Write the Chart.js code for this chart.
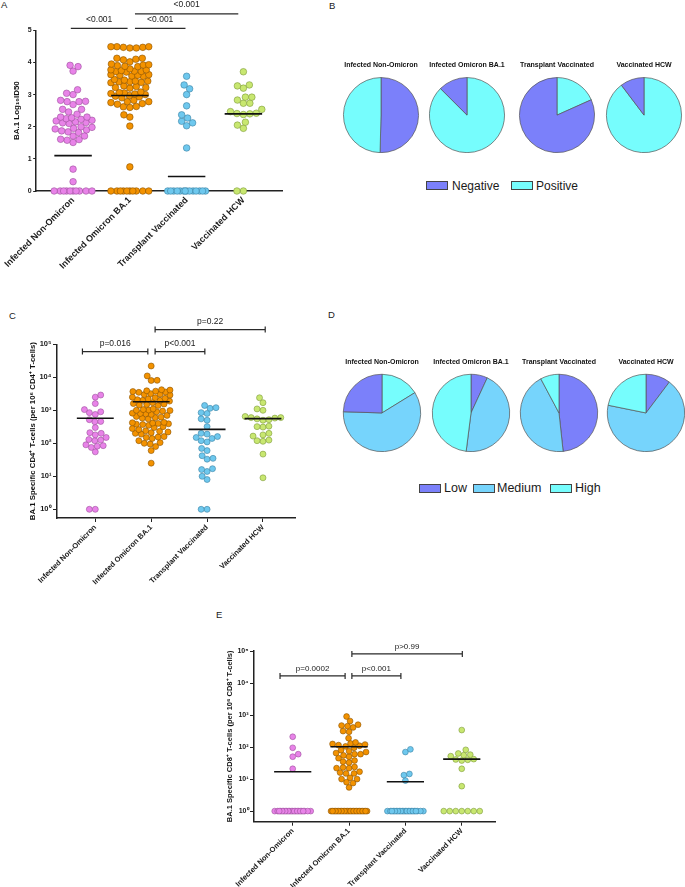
<!DOCTYPE html>
<html>
<head>
<meta charset="utf-8">
<script src="https://cdn.jsdelivr.net/npm/chart.js@4.4.0/dist/chart.umd.min.js"></script>
<style>
  body { margin: 0; width: 685px; height: 887px; position: relative; overflow: hidden; background: #fff;
         font-family: "Liberation Sans", Arial, sans-serif; color: #1a1a1a; }
  canvas { position: absolute; }
  .letter { position: absolute; font-size: 9.5px; line-height: 10px; }
  .leg { position: absolute; display: flex; align-items: center; height: 14px; white-space: nowrap; }
  .leg .box { display: inline-block; width: 20px; height: 7px; border: 1px solid #444; }
  .leg .txt { position: absolute; }
</style>
</head>
<body>

<div class="letter" style="left:1px;top:0px">A</div>
<div class="letter" style="left:329px;top:1px">B</div>
<div class="letter" style="left:9px;top:311px">C</div>
<div class="letter" style="left:328px;top:310px">D</div>
<div class="letter" style="left:216px;top:610px">E</div>

<canvas id="cA" width="300" height="292" style="left:0;top:0"></canvas>
<canvas id="cC" width="300" height="290" style="left:0;top:300px"></canvas>
<canvas id="cE" width="330" height="297" style="left:180px;top:590px"></canvas>

<script>
const FONT = '"Liberation Sans", Arial, sans-serif';
Chart.defaults.font.family = FONT;
Chart.defaults.color = '#1a1a1a';

// ---- data ----
const groups = ['Infected Non-Omicron', 'Infected Omicron BA.1', 'Transplant Vaccinated', 'Vaccinated HCW'];

// A: BA.1 Log10 ID50
const pinkA = [3.91, 3.87, 3.73, 3.15, 3.04, 3.0, 2.82, 2.79, 2.78, 2.78, 2.69, 2.54, 2.54, 2.46, 2.39,
  2.30, 2.30, 2.28, 2.25, 2.23, 2.20, 2.18, 2.15, 2.13, 2.12, 2.10, 2.0, 1.98, 1.95, 1.93, 1.90, 1.87,
  1.84, 1.82, 1.71, 1.71, 1.61, 1.60, 1.58, 1.51, 0.68, 0.29, 0, 0, 0, 0, 0, 0, 0, 0, 0, 0];
const orangeA = [4.49, 4.49, 4.47, 4.45, 4.45, 4.47, 4.49, 4.13, 4.13, 4.10, 4.08, 4.02, 3.95, 3.93, 3.92,
  3.90, 3.88, 3.87, 3.80, 3.77, 3.77, 3.75, 3.73, 3.72, 3.72, 3.70, 3.62, 3.62, 3.60, 3.60, 3.58, 3.57,
  3.47, 3.45, 3.42, 3.42, 3.40, 3.40, 3.38, 3.37, 3.27, 3.25, 3.22, 3.22, 3.20, 3.08, 3.06, 3.05, 3.03,
  3.02, 3.00, 2.97, 2.95, 2.93, 2.90, 2.82, 2.78, 2.78, 2.75, 2.72, 2.70, 2.63, 2.62, 2.60, 2.37, 2.30,
  2.02, 0.75, 0, 0, 0, 0, 0, 0, 0, 0, 0, 0];
const blueA = [3.57, 3.30, 3.18, 3.00, 2.65, 2.37, 2.27, 2.17, 2.12, 2.03, 1.34,
  0, 0, 0, 0, 0, 0, 0, 0, 0, 0, 0, 0, 0, 0];
const greenA = [3.71, 3.30, 3.27, 3.20, 2.92, 2.92, 2.83, 2.73, 2.73, 2.54, 2.47, 2.42, 2.41, 2.40, 2.38,
  2.14, 2.05, 1.95, 0, 0];
const linesA = [1.10, 2.97, 0.45, 2.40];
const bracketsA = [
  {from: 0.96, to: 1.96, at: 5.06, label: '<0.001'},
  {from: 2.09, to: 2.98, at: 5.06, label: '<0.001'},
  {from: 2.09, to: 3.91, at: 5.51, label: '<0.001'}
];

// B: neutralisation positive / negative (% of group)
const negB = [50.4, 12.5, 81.7, 10.3];
const posB = [49.6, 87.5, 18.3, 89.7];

// C: BA.1 specific CD4+ T-cells per 10^6
const pinkC = [2900, 2500, 1600, 1050, 900, 850, 750, 520, 460, 450, 300, 210, 200, 180, 150, 130, 125,
  120, 90, 85, 82, 75, 55, 1, 1];
const orangeC = [22000, 11000, 8100, 8000, 4200, 4100, 3900, 3800, 3700, 3600, 3500, 3200, 3100, 3000,
  2900, 2500, 2400, 2300, 2200, 2100, 2000, 2000, 1900, 1700, 1600, 1550, 1500, 1450, 1400, 1100, 1050,
  1020, 1000, 980, 950, 900, 820, 800, 780, 750, 700, 650, 620, 600, 580, 550, 430, 420, 410, 400, 390,
  380, 370, 350, 320, 300, 280, 260, 240, 230, 220, 210, 200, 190, 160, 155, 150, 140, 120, 105, 100,
  95, 80, 60, 25];
const blueC = [1400, 1200, 1150, 850, 800, 550, 500, 320, 200, 190, 160, 150, 140, 120, 110, 70, 60, 42,
  35, 33, 17, 16, 14, 10, 8, 1, 1];
const greenC = [2400, 1700, 1100, 1000, 650, 600, 600, 580, 550, 520, 500, 330, 320, 310, 200, 180, 165,
  125, 120, 115, 47, 9];
const linesC = [575, 1820, 265, 560];
const bracketsC = [
  {from: 0.77, to: 1.94, at: 6.0e4, label: 'p=0.016'},
  {from: 2.07, to: 2.96, at: 6.0e4, label: 'p<0.001'},
  {from: 2.07, to: 4.04, at: 2.8e5, label: 'p=0.22'}
];

// D: CD4 response level (% of group)
const lowD = [24.5, 6.9, 48.3, 10.3];
const medD = [59.3, 45.1, 43.9, 67.9];
const highD = [16.2, 48.0, 7.8, 21.8];

// E: BA.1 specific CD8+ T-cells per 10^6
const pinkE = [210, 95, 60, 50, 21, 1, 1, 1, 1, 1, 1, 1, 1, 1, 1, 1, 1, 1, 1, 1, 1, 1, 1, 1, 1, 1, 1];
const orangeE = [900, 650, 500, 470, 450, 410, 315, 300, 190, 140, 130, 125, 120, 115, 110, 105, 95, 80,
  75, 70, 65, 60, 60, 55, 50, 45, 38, 35, 33, 24, 23, 22, 22, 17, 16, 15, 15, 11, 10, 10, 8, 7.5, 5.5,
  1, 1, 1, 1, 1, 1, 1, 1, 1, 1, 1, 1, 1, 1, 1, 1, 1, 1, 1, 1, 1, 1, 1, 1, 1];
const blueE = [85, 70, 14.5, 13.3, 9, 1, 1, 1, 1, 1, 1, 1, 1, 1, 1, 1, 1, 1, 1, 1, 1, 1, 1, 1, 1, 1, 1];
const greenE = [340, 82, 63, 58, 56, 52, 42, 40, 41, 38, 21, 6, 1, 1, 1, 1, 1, 1, 1];
const linesE = [17, 102, 8.3, 42];
const bracketsE = [
  {from: 0.775, to: 1.93, at: 1.66e4, label: 'p=0.0002'},
  {from: 2.05, to: 2.92, at: 1.66e4, label: 'p<0.001'},
  {from: 2.05, to: 4.01, at: 8.1e4, label: 'p>0.99'}
];

// ---- styles ----
const fills = ['#e883e8', '#f39200', '#6ec8ee', '#c8e770'];
const edges = ['#9c509c', '#8a5300', '#3b82a3', '#7d9a3c'];
const SUP = ['\u2070', '\u00b9', '\u00b2', '\u00b3', '\u2074', '\u2075', '\u2076'];
const HALF_PX = 19;   // max half width of a dot column, px

// simple beeswarm: each point takes the spot nearest the column centre that
// does not touch the points already placed; when the column is full it takes
// the least crowded spot
function swarm(vals, toPy, pxX, r) {
  const D = 2 * r * 0.97;
  const placed = [];
  const cands = [0];
  for (let s = 0.5; s <= HALF_PX; s += 0.5) cands.push(s, -s);
  vals.map(v => ({v, p: toPy(v)})).sort((a, b) => a.p - b.p).forEach((o, n) => {
    const flip = n % 2 ? -1 : 1;
    let best = 0, bestD = -1;
    for (const c0 of cands) {
      const c = c0 * flip;
      let md = Infinity;
      for (const q of placed) {
        const dy = q.p - o.p;
        if (Math.abs(dy) >= D) continue;
        md = Math.min(md, Math.hypot(q.dx - c, dy));
      }
      if (md >= D) { best = c; bestD = md; break; }
      if (md > bestD + 0.01) { best = c; bestD = md; }
    }
    placed.push({dx: best, p: o.p, v: o.v});
  });
  return placed.map(q => ({dx: q.dx / pxX, y: q.v}));
}

function bracketPlugin(items, o) {
  return {
    id: 'brackets',
    afterDatasetsDraw(chart) {
      const {ctx, scales: {x, y}} = chart;
      ctx.save();
      ctx.strokeStyle = '#2a2a2a';
      ctx.lineWidth = 1.2;
      ctx.fillStyle = '#1a1a1a';
      ctx.font = o.size + 'px ' + FONT;
      ctx.textAlign = 'center';
      ctx.textBaseline = 'middle';
      items.forEach(b => {
        const x1 = x.getPixelForValue(b.from), x2 = x.getPixelForValue(b.to), yy = y.getPixelForValue(b.at);
        ctx.beginPath();
        ctx.moveTo(x1, yy); ctx.lineTo(x2, yy);
        if (o.cap) {
          ctx.moveTo(x1, yy - 3); ctx.lineTo(x1, yy + 3);
          ctx.moveTo(x2, yy - 3); ctx.lineTo(x2, yy + 3);
        }
        ctx.stroke();
        ctx.fillText(b.label, (x1 + x2) / 2, yy - o.gap);
      });
      ctx.restore();
    }
  };
}

function dotPlot(id, cfg) {
  const toPy = cfg.log ? v => Math.log10(v) * cfg.pxPerUnit : v => v * cfg.pxPerUnit;
  const datasets = [];
  cfg.series.forEach((vals, i) => {
    datasets.push({
      type: 'scatter',
      data: swarm(vals, toPy, cfg.pxX, cfg.r).map(p => ({x: i + 1 + p.dx, y: p.y})),
      backgroundColor: fills[i], borderColor: edges[i], borderWidth: 0.6,
      pointRadius: cfg.r, clip: false, order: 2
    });
  });
  cfg.lines.forEach((m, i) => {
    datasets.push({
      type: 'line',
      data: [{x: i + 1 - 0.33, y: m}, {x: i + 1 + 0.33, y: m}],
      borderColor: '#111', borderWidth: 1.6, pointRadius: 0, clip: false, order: 1
    });
  });

  const yScale = cfg.log ? {
    type: 'logarithmic', min: cfg.yMin, max: cfg.yMax,
    afterBuildTicks: s => { s.ticks = [1, 10, 100, 1e3, 1e4, 1e5].map(v => ({value: v, major: true})); },
    ticks: {callback: v => '10' + SUP[Math.round(Math.log10(v))]}
  } : {
    type: 'linear', min: cfg.yMin, max: cfg.yMax, ticks: {stepSize: 1}
  };
  Object.assign(yScale, {
    afterFit: s => { s.width = cfg.yW; },
    title: {display: true, text: cfg.yTitle, color: '#111',
            font: {size: cfg.titleFont, weight: 'bold'}, padding: {top: cfg.titlePad, bottom: 0}},
    grid: {drawOnChartArea: false, drawTicks: true, tickLength: cfg.yTick, color: '#222', lineWidth: 1},
    border: {color: '#222', width: 1.5}
  });
  Object.assign(yScale.ticks, {padding: 1.5, color: '#1a1a1a', font: {size: cfg.yFont, weight: 'bold'}});

  return new Chart(document.getElementById(id), {
    type: 'scatter',
    data: {datasets},
    options: {
      responsive: false, animation: false,
      layout: {padding: cfg.padding},
      plugins: {legend: {display: false}, tooltip: {enabled: false}},
      scales: {
        x: {
          type: 'linear', min: cfg.xMin, max: cfg.xMax, offset: false,
          afterBuildTicks: s => { s.ticks = groups.map((g, i) => ({value: i + 1})); },
          afterFit: s => { s.height = cfg.xH; },
          ticks: {autoSkip: false, minRotation: 45, maxRotation: 45, padding: 1, color: '#1a1a1a',
                  font: {size: cfg.xFont, weight: 'bold'}, callback: v => groups[v - 1]},
          grid: {drawOnChartArea: false, drawTicks: true, tickLength: cfg.xTick, color: '#222', lineWidth: 1},
          border: {color: '#222', width: 1.5}
        },
        y: yScale
      }
    },
    plugins: [bracketPlugin(cfg.brackets, cfg.br)]
  });
}

dotPlot('cA', {
  series: [pinkA, orangeA, blueA, greenA], lines: linesA, brackets: bracketsA,
  log: false, pxPerUnit: 32.14, pxX: 57.04, r: 3.3,
  xMin: 0.35, xMax: 4.68, yMin: 0, yMax: 5,
  padding: {top: 30.3, right: 18, left: 0, bottom: 0}, yW: 35, xH: 101,
  xFont: 9, yFont: 7, xTick: 3, yTick: 3,
  yTitle: 'BA.1 Log\u2081\u2080ID50', titleFont: 8, titlePad: 10.5,
  br: {cap: false, gap: 9, size: 8.5}
});

dotPlot('cC', {
  series: [pinkC, orangeC, blueC, greenC], lines: linesC, brackets: bracketsC,
  log: true, pxPerUnit: 33, pxX: 56.5, r: 3,
  xMin: 0.315, xMax: 4.58, yMin: 0.545, yMax: 1e5,
  padding: {top: 44.3, right: 2, left: 0, bottom: 0}, yW: 57, xH: 72,
  xFont: 7.5, yFont: 7.5, xTick: 4, yTick: 4,
  yTitle: 'BA.1 Specific CD4\u207a T-cells (per 10\u2076 CD4\u207a T-cells)', titleFont: 7.8, titlePad: 27.8,
  br: {cap: true, gap: 7.5, size: 8.5}
});

dotPlot('cE', {
  series: [pinkE, orangeE, blueE, greenE], lines: linesE, brackets: bracketsE,
  log: true, pxPerUnit: 32, pxX: 56.35, r: 2.9,
  xMin: 0.313, xMax: 4.59, yMin: 0.467, yMax: 1e5,
  padding: {top: 61, right: 15, left: 0, bottom: 0}, yW: 74, xH: 65.3,
  xFont: 7.5, yFont: 7, xTick: 4, yTick: 4,
  yTitle: 'BA.1 Specific CD8\u207a T-cells (per 10\u2076 CD8\u207a T-cells)', titleFont: 7.5, titlePad: 45.5,
  br: {cap: true, gap: 7, size: 8}
});

// ---- pies ----
const colNeg = '#7b80fa', colPos = '#76fdfd';
const colLow = '#7b80fa', colMed = '#76d4fc', colHigh = '#76fdfd';

function pie(left, top, w, h, pad, title, labels, values, colors, reversed) {
  const c = document.createElement('canvas');
  c.width = w; c.height = h;
  c.style.left = left + 'px'; c.style.top = top + 'px';
  document.body.appendChild(c);
  const L = reversed ? labels.slice().reverse() : labels;
  const V = reversed ? values.slice().reverse() : values;
  const C = reversed ? colors.slice().reverse() : colors;
  new Chart(c, {
    type: 'pie',
    data: {labels: L, datasets: [{data: V, backgroundColor: C, borderColor: '#555', borderWidth: 0.7}]},
    options: {
      responsive: false, animation: false,
      plugins: {
        legend: {display: false}, tooltip: {enabled: false},
        title: {display: true, text: title, color: '#111', font: {size: 7, weight: 'bold'},
                padding: {top: 0, bottom: pad}}
      }
    }
  });
}

const pieXB = [381, 467, 557, 644];
const pieXD = [382, 471, 559, 646];
groups.forEach((g, i) => {
  pie(pieXB[i] - 42, 61, 84, 92, 7.8, g, ['Negative', 'Positive'],
      i === 0 ? [negB[i], posB[i]] : [posB[i], negB[i]],
      i === 0 ? [colNeg, colPos] : [colPos, colNeg], false);
  pie(pieXD[i] - 43, 358, 86, 94, 7.5, g, ['Low', 'Medium', 'High'],
      [lowD[i], medD[i], highD[i]], [colLow, colMed, colHigh], i === 0);
});

// ---- legends ----
function legend(top, items, lefts, textLefts, size) {
  items.forEach((it, k) => {
    const d = document.createElement('div');
    d.className = 'leg';
    d.style.top = top + 'px';
    d.style.left = lefts[k] + 'px';
    d.style.fontSize = size + 'px';
    d.innerHTML = '<span class="box" style="background:' + it.color + '"></span>' +
                  '<span class="txt" style="left:' + textLefts[k] + 'px">' + it.label + '</span>';
    document.body.appendChild(d);
  });
}
legend(178.5, [{label: 'Negative', color: colNeg}, {label: 'Positive', color: colPos}],
       [426, 511], [26, 25], 12);
legend(481, [{label: 'Low', color: colLow}, {label: 'Medium', color: colMed}, {label: 'High', color: colHigh}],
       [419, 473, 550], [25, 24, 25], 12.5);
</script>
</body>
</html>
